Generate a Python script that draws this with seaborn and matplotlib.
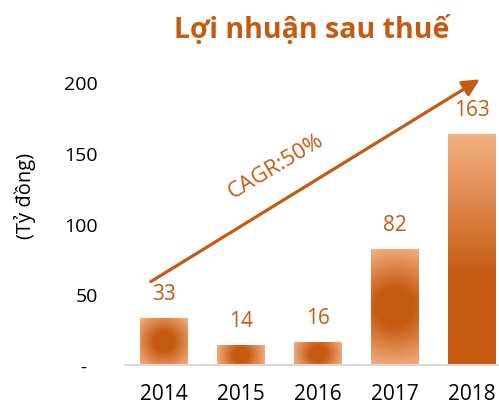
import matplotlib
matplotlib.use('Agg')
import matplotlib.pyplot as plt
import seaborn as sns
import numpy as np
from matplotlib.colors import to_rgb

sns.set_theme(style="white")
plt.rcParams['font.family'] = ['Open Sans', 'DejaVu Sans']

# Data
years = ['2014', '2015', '2016', '2017', '2018']
profits = [33, 14, 16, 82, 163]
y_ticks = [0, 50, 100, 150, 200]
y_tick_labels = ['-  ', '50', '100', '150', '200']
cagr_label = 'CAGR:50%'

ORANGE = '#C55A11'
LIGHT = '#F4B183'

fig = plt.figure(figsize=(4.99, 4.06), dpi=100)
ax = fig.add_axes([0.2515, 0.0985, 0.7485, 0.7315])

sns.barplot(x=years, y=profits, width=0.62, ax=ax,
            facecolor='none', edgecolor='none', errorbar=None)
ax.set_xlim(-0.5, 4.35)
ax.set_ylim(0, 210)

dark = np.array(to_rgb(ORANGE))
light = np.array(to_rgb(LIGHT))


def gradient_fill(patch, mode):
    """Fill a bar with a gradient image clipped to the bar"""
    x0, y0 = patch.get_x(), patch.get_y()
    w, h = patch.get_width(), patch.get_height()
    p0 = ax.transData.transform((x0, y0))
    p1 = ax.transData.transform((x0 + w, y0 + h))
    wpx, hpx = abs(p1[0] - p0[0]), abs(p1[1] - p0[1])
    nx, ny = max(int(wpx * 2), 2), max(int(hpx * 2), 2)
    xs = np.linspace(-wpx / 2, wpx / 2, nx)
    ys = np.linspace(hpx, 0, ny)  # top row first
    X, Y = np.meshgrid(xs, ys)
    if mode == 'radial':
        R = np.hypot(wpx / 2, hpx / 2)
        d = np.sqrt(X ** 2 + (Y - hpx / 2) ** 2) / R
        t = np.clip((d - 0.3) / 0.7, 0, 1)
    else:
        t = np.clip((Y - hpx * 0.38) / (hpx * 0.62), 0, 1)
    img = dark[None, None, :] * (1 - t[..., None]) + light[None, None, :] * t[..., None]
    im = ax.imshow(img, extent=(x0, x0 + w, y0, y0 + h), aspect='auto',
                   interpolation='bilinear', zorder=2)
    im.set_clip_path(patch)


for i, patch in enumerate(ax.patches):
    gradient_fill(patch, 'linear' if i == len(ax.patches) - 1 else 'radial')

ax.set_xlim(-0.5, 4.35)
ax.set_ylim(0, 210)

# value labels
for i, v in enumerate(profits):
    ax.annotate(str(v), (i, v), xytext=(0, 18), textcoords='offset points',
                ha='center', va='center', fontsize=15, color=ORANGE)

# CAGR arrow
ax.annotate('', xy=(4.1, 202), xytext=(-0.17, 59),
            arrowprops=dict(arrowstyle='-|>,head_length=0.85,head_width=0.42',
                            color=ORANGE, lw=2.3, shrinkA=0, shrinkB=0))
ax.text(1.45, 141, cagr_label, rotation=31, ha='center', va='center',
        fontsize=16, color=ORANGE, rotation_mode='anchor')

# axes styling
for s in ['top', 'right', 'left']:
    ax.spines[s].set_visible(False)
ax.spines['bottom'].set_color('#D9D9D9')
ax.spines['bottom'].set_linewidth(1.5)
ax.set_yticks(y_ticks)
ax.set_yticklabels(y_tick_labels)
ax.tick_params(axis='y', length=0, pad=20, labelsize=14, labelcolor='black')
ax.tick_params(axis='x', length=0, pad=13, labelsize=15, labelcolor='black')
ax.set_xlabel('')
ax.set_ylabel('')
ax.grid(False)

fig.text(25 / 499, 1 - 196 / 406, '(Tỷ đồng)', rotation=90, ha='center',
         va='center', fontsize=14.5, color='black')
fig.text(312 / 499, 1 - 30 / 406, 'Lợi nhuận sau thuế', ha='center',
         va='center', fontsize=20.5, fontweight='bold', color=ORANGE)

fig.savefig('out.png', dpi=100, facecolor='white')
